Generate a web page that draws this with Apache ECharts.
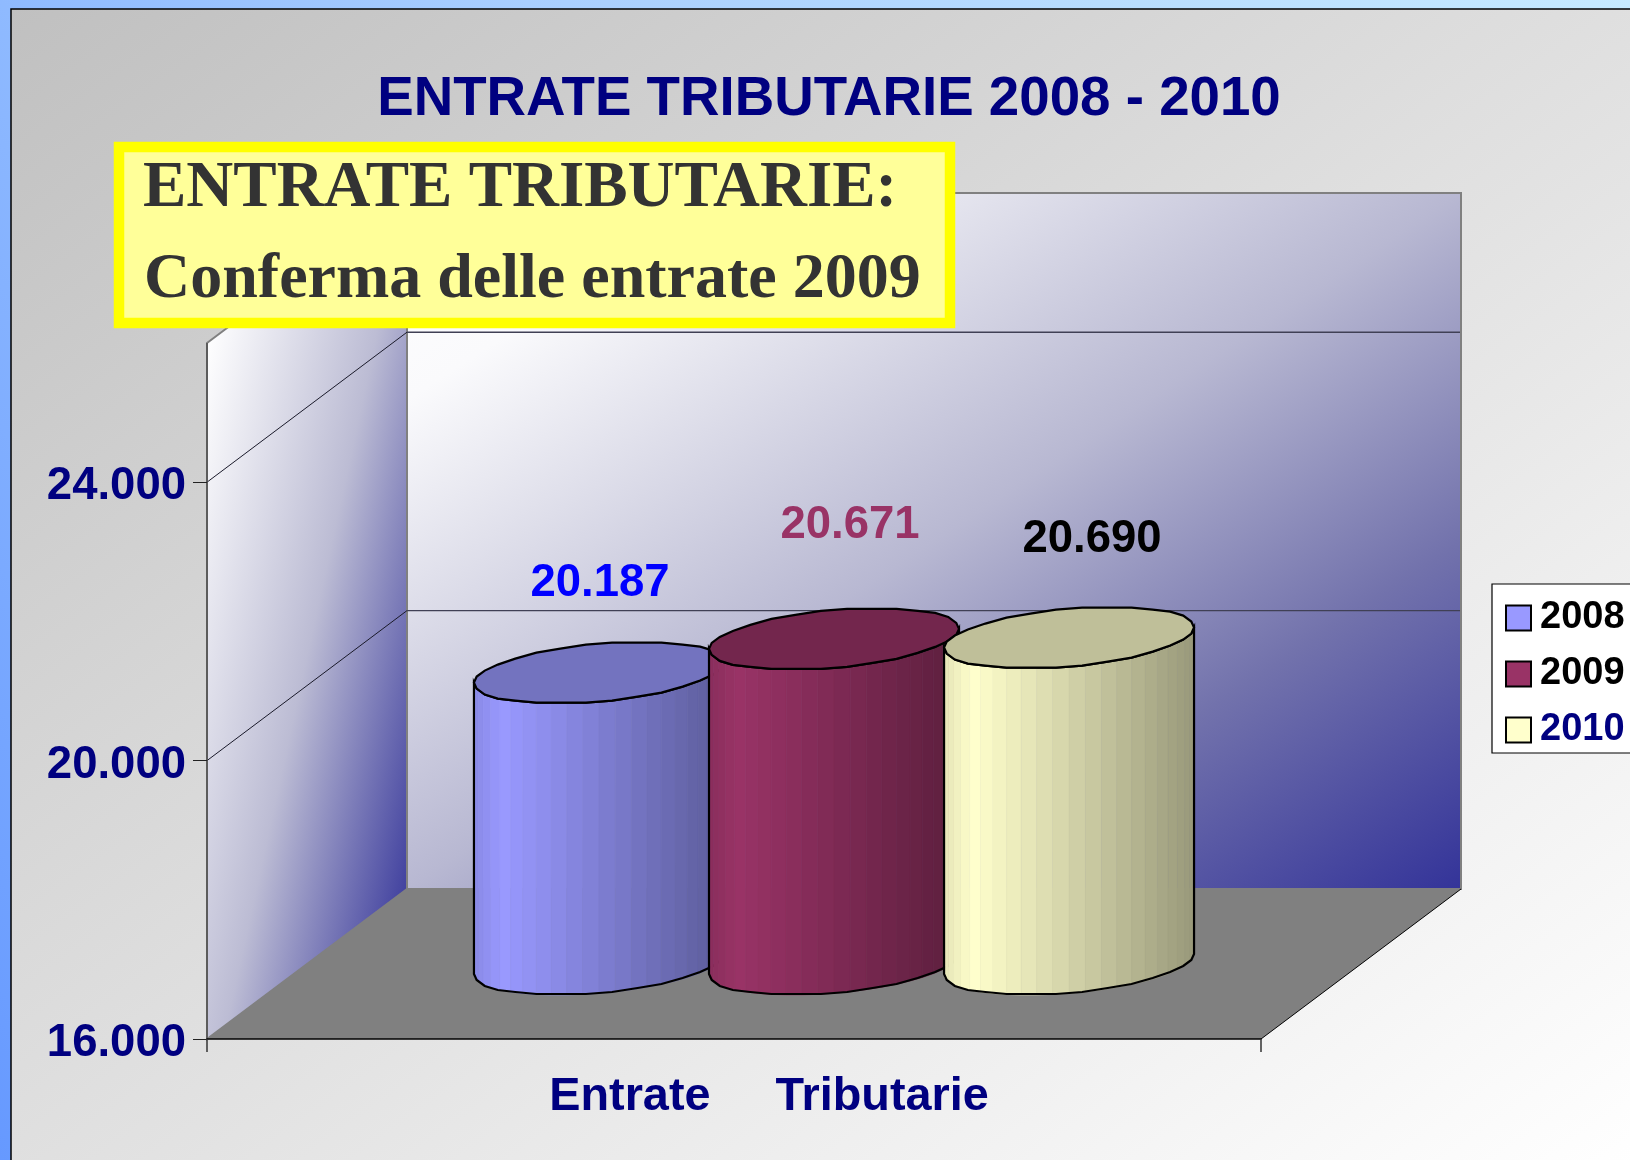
<!DOCTYPE html>
<html><head><meta charset="utf-8">
<style>html,body{margin:0;padding:0;background:#fff}#c{width:1630px;height:1160px}</style>
<script src="https://cdn.jsdelivr.net/npm/echarts@6/dist/echarts.min.js"></script>
</head><body><div id="c"></div>
<script>
const categories = ['Entrate     Tributarie'];
const seriesNames = ['2008', '2009', '2010'];
const values2008 = [20187];
const values2009 = [20671];
const values2010 = [20690];
const yTicks = [16000, 20000, 24000];
const yMin = 16000, yMax = 26000;
const chartTitle = 'ENTRATE TRIBUTARIE 2008 - 2010';
const calloutLines = ['ENTRATE TRIBUTARIE:', 'Conferma delle entrate 2009'];

const seriesColors = ['#9999ff', '#993366', '#ffffcc'];
const labelColors = ['#0000ff', '#993366', '#000000'];
const legendColors = ['#000000', '#000000', '#000080'];
const labelShift = [[1, -89], [16, -113], [23, -98]];
const NAVY = '#000080';
const SANS = '"Liberation Sans", Arial, sans-serif';
const SERIF = '"Liberation Serif", "Times New Roman", serif';
const DX = 200, DY = 150;          // depth vector of the 3D box
const G = {left: 207, top: 343, width: 1054, height: 696};

const fmt = v => String(v).replace(/\B(?=(\d{3})+$)/g, '.');
function mul(hex, f) {
  const n = parseInt(hex.slice(1), 16);
  const c = s => Math.round(((n >> s) & 255) * f);
  return 'rgb(' + c(16) + ',' + c(8) + ',' + c(0) + ')';
}
const grad = (x, y, x2, y2, stops) => ({type: 'linear', x, y, x2, y2,
  colorStops: stops.map(s => ({offset: s[0], color: s[1]}))});
const wallStops = [[0, '#ffffff'], [.15, '#fafafc'], [.3, '#dedeea'], [.5, '#b8b8d2'], [.75, '#7272ac'], [1, '#333399']];

function renderScene(params, api) {
  const [x0, y0] = api.coord([0, yMin]);
  const band = api.size([1, 0])[0];
  const x1 = x0 - band / 2, x2 = x0 + band / 2;
  const yTop = api.coord([0, yMax])[1];
  const poly = (points, style) => ({type: 'polygon', shape: {points}, style});
  const line = (a, b, stroke, lineWidth) => ({type: 'line',
    shape: {x1: a[0], y1: a[1], x2: b[0], y2: b[1]}, style: {stroke, lineWidth, fill: null}});
  const children = [
    poly([[x1 + DX, yTop - DY], [x2 + DX, yTop - DY], [x2 + DX, y0 - DY], [x1 + DX, y0 - DY]], {
      fill: grad(0, 0, .607, 1.392, wallStops), stroke: '#808080', lineWidth: 2}),
    poly([[x1, yTop], [x1 + DX, yTop - DY], [x1 + DX, y0 - DY], [x1, y0]], {
      fill: grad(0, .177, 1.6, .26, [[0, '#ffffff'], [.5, '#bcbcd4'], [1, '#333399']]),
      stroke: '#808080', lineWidth: 2}),
    poly([[x1, y0], [x2, y0], [x2 + DX, y0 - DY], [x1 + DX, y0 - DY]], {fill: '#808080'})
  ];
  yTicks.slice(1).forEach(v => {
    const y = api.coord([0, v])[1];
    children.push(line([x1, y], [x1 + DX, y - DY], '#1a1a2a', 1));
    children.push(line([x1 + DX, y - DY], [x2 + DX - 1, y - DY], '#404055', 1.4));
  });
  children.push(line([x1, yTop], [x1, y0], '#505050', 1.5));
  children.push(line([x2, y0], [x2 + DX, y0 - DY], '#000000', 1));
  return {type: 'group', children};
}

const STRIPS = 24, OUTLINE = 30, SNAP = 2;
function cylinder(idx) {
  return function (params, api) {
    const value = api.value(1);
    const band = api.size([1, 0])[0];
    const step = band * 0.223, halfW = band * 0.1186;
    const ex = 41, ey = 31, rx = Math.sqrt(halfW * halfW - ex * ex);
    const top = api.coord([0, value]), base = api.coord([0, yMin]);
    const cx = top[0] + (idx - 1) * step + DX / 2;
    const ty = top[1] - DY / 2, by = base[1] - DY / 2;
    const pt = (th, cy, snap) => [cx + rx * Math.cos(th) + ex * Math.sin(th),
      cy - (snap ? Math.round(ey * Math.sin(th) / SNAP) * SNAP : ey * Math.sin(th))];
    const th0 = Math.PI + Math.atan(ex / rx);
    const color = seriesColors[idx];
    const shade = t => t < .12 ? .9 + t * .1 / .12 : 1 - (t - .12) * .4 / .88;
    const children = [];
    const tops = [], bots = [];
    for (let i = 0; i <= STRIPS; i++) {
      const th = th0 + i * Math.PI / STRIPS;
      tops.push(pt(th, ty)); bots.push(pt(th, by));
    }
    for (let i = 0; i < STRIPS; i++) {
      const t = (((tops[i][0] + tops[i + 1][0]) / 2) - (cx - halfW)) / (2 * halfW);
      const c = mul(color, shade(t));
      children.push({type: 'polygon', shape: {points: [tops[i], tops[i + 1], bots[i + 1], bots[i]]},
        style: {fill: c, stroke: c, lineWidth: .6}});
    }
    const topEdge = [], botEdge = [];
    for (let i = 0; i <= OUTLINE / 2; i++) {
      const th = th0 + i * 2 * Math.PI / OUTLINE;
      topEdge.push(pt(th, ty, true)); botEdge.push(pt(th, by, true));
    }
    children.push({type: 'polygon', shape: {points: topEdge.concat(botEdge.slice().reverse())},
      style: {fill: null, stroke: '#000', lineWidth: 2.2}});
    const cap = [];
    for (let i = 0; i < OUTLINE; i++) cap.push(pt(th0 + i * 2 * Math.PI / OUTLINE, ty, true));
    children.push({type: 'polygon', shape: {points: cap},
      style: {fill: mul(color, .75), stroke: '#000', lineWidth: 2.2}});
    children.push({type: 'text', z2: 10, style: {
      text: fmt(value), x: cx + labelShift[idx][0], y: ty + labelShift[idx][1],
      align: 'center', verticalAlign: 'middle', fill: labelColors[idx],
      font: 'bold 45.5px ' + SANS}});
    return {type: 'group', children};
  };
}

const seriesValues = [values2008, values2009, values2010];
const option = {
  animation: false,
  graphic: {elements: [
    {type: 'rect', z: -10, shape: {x: 0, y: 0, width: 1630, height: 1160},
      style: {fill: {type: 'linear', x: 1, y: 0, x2: 0, y2: 1, colorStops: [
        {offset: 0, color: '#c6eaff'}, {offset: .45, color: '#a9cfff'}, {offset: 1, color: '#6699ff'}]}}},
    {type: 'rect', z: -9, shape: {x: 11, y: 9, width: 1625, height: 1160},
      style: {fill: grad(0, 0, .671, 1.328, [[0, '#c0c0c0'], [1, '#ffffff']]), stroke: '#000', lineWidth: 1.5}},
    {type: 'rect', z: -8, shape: {x: 1492, y: 584, width: 145, height: 169},
      style: {fill: '#ffffff', stroke: '#000', lineWidth: 1.2}},
    {type: 'rect', z: 50, shape: {x: 119, y: 147, width: 831, height: 176},
      style: {fill: '#ffff99', stroke: '#ffff00', lineWidth: 10.5}},
    {type: 'text', z: 51, style: {text: calloutLines[0], x: 143, y: 157, verticalAlign: 'top',
      fill: '#333333', font: 'bold 65px ' + SERIF}},
    {type: 'text', z: 51, style: {text: calloutLines[1], x: 144, y: 248, verticalAlign: 'top',
      fill: '#333333', font: 'bold 64px ' + SERIF}}
  ]},
  title: {text: chartTitle, left: 824, top: 67, textAlign: 'center',
    textStyle: {color: NAVY, fontFamily: SANS, fontWeight: 'bold', fontSize: 54.7}},
  legend: {
    orient: 'vertical', left: 1505, top: 599, padding: 0, itemWidth: 25, itemHeight: 25, itemGap: 18,
    icon: 'rect', selectedMode: false,
    itemStyle: {borderColor: '#000', borderWidth: 2},
    data: seriesNames.map((name, i) => ({name, itemStyle: {color: seriesColors[i]},
      textStyle: {color: legendColors[i], fontFamily: SANS, fontWeight: 'bold', fontSize: 38, padding: [0, 0, 0, 4]}}))
  },
  grid: {left: G.left, top: G.top, width: G.width, height: G.height},
  xAxis: {type: 'category', data: categories, z: 5,
    axisLine: {lineStyle: {color: '#000', width: 1.5}},
    axisTick: {show: true, length: 13, lineStyle: {color: '#333', width: 1.5}},
    axisLabel: {color: NAVY, fontFamily: SANS, fontWeight: 'bold', fontSize: 46.8, margin: 35,
      padding: [0, 0, 0, 70]}},
  yAxis: {type: 'value', min: yMin, max: yMax, z: 5, splitLine: {show: false},
    axisLine: {show: false},
    axisTick: {show: true, length: 14, lineStyle: {color: '#222', width: 1}, customValues: yTicks},
    axisLabel: {margin: 21, customValues: yTicks, formatter: v => '{v|' + fmt(v) + '}',
      rich: {v: {color: NAVY, fontFamily: SANS, fontWeight: 'bold', fontSize: 45.5, padding: [9, 0, 0, 0]}}}},
  series: [
    {type: 'custom', name: 'scene', z: 1, silent: true, renderItem: renderScene, data: [[0, yMin]],
      encode: {x: 0, y: 1}}
  ].concat(seriesNames.map((name, i) => ({
    type: 'custom', name, z: 3 + i, renderItem: cylinder(i),
    itemStyle: {color: seriesColors[i]},
    data: seriesValues[i].map((v, k) => [k, v]), encode: {x: 0, y: 1}
  })))
};
echarts.init(document.getElementById('c')).setOption(option);
</script></body></html>
